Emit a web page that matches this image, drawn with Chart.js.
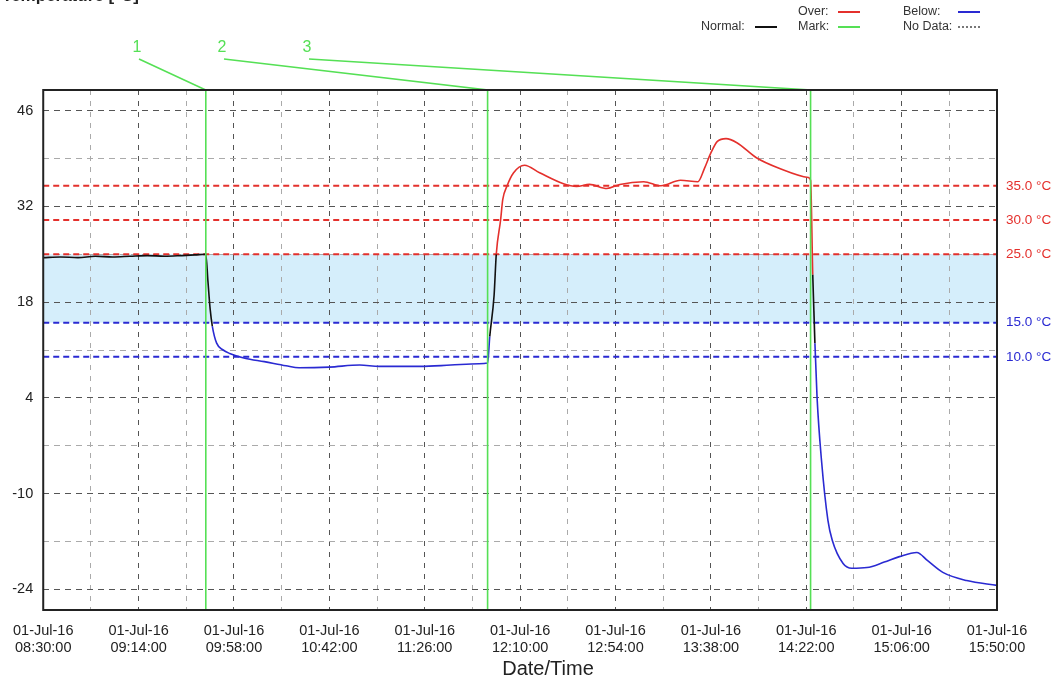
<!DOCTYPE html>
<html>
<head>
<meta charset="utf-8">
<script src="https://cdn.jsdelivr.net/npm/chart.js@4.4.0/dist/chart.umd.min.js"></script>
<style>
html, body { margin: 0; padding: 0; background: #fff; }
#wrap { width: 1062px; height: 679px; position: relative; }
</style>
</head>
<body>
<div id="wrap"><canvas id="chart"></canvas></div>
<script>
// logger readings, 01-Jul-16
const times = ['08:30','08:38','08:46','08:54','09:02','09:10','09:18','09:26','09:34','09:40','09:45',
  '09:46','09:47','09:48','09:50','09:53','09:56','10:03','10:12','10:22','10:28','10:42','10:56','11:05','11:24','11:38','11:51','11:55',
  '11:56','11:58','11:59','12:01','12:02','12:04','12:07','12:12','12:19','12:30','12:36','12:42','12:50','12:56','13:07','13:15','13:24','13:32','13:35','13:38','13:41','13:45','13:50','13:59','14:10','14:23','14:24',
  '14:25','14:26','14:27','14:29','14:32','14:34','14:39','14:43','14:50','14:58','15:05','15:13','15:18','15:25','15:36','15:50'];
const temps = [24.5,24.6,24.5,24.7,24.6,24.7,24.8,24.7,24.8,24.9,25.0,
  21,17,14.5,12,11,10.5,9.8,9.3,8.7,8.4,8.5,8.8,8.6,8.6,8.8,9.0,9.1,
  13,19,25,30,33,35,36.9,38.0,36.9,35.3,34.9,35.2,34.6,35.2,35.6,35.0,35.8,35.6,37.5,39.8,41.5,41.9,41.3,39.1,37.5,36.2,35.8,
  22,12,4,-5,-13.9,-16.8,-20.2,-20.9,-20.8,-20.0,-19.2,-18.6,-19.8,-21.5,-22.7,-23.4];

const markTimes = ['09:45', '11:55', '14:24'];
const markNames = ['1', '2', '3'];
const overLimits = [35, 30, 25];
const belowLimits = [15, 10];
const xLabelTimes = ['08:30','09:14','09:58','10:42','11:26','12:10','12:54','13:38','14:22','15:06','15:50'];
const yLabels = [-24, -10, 4, 18, 32, 46];

const START = 8 * 60 + 30;
function toMin(s) {
    const [h, m] = s.split(':').map(Number);
    return h * 60 + m - START;
}
function fmt(v) {
    const t = START + v;
    const h = Math.floor(t / 60), m = t % 60;
    return String(h).padStart(2, '0') + ':' + String(m).padStart(2, '0') + ':00';
}

const FONT = '"Liberation Sans", Arial, sans-serif';
const RED = '#e4302c';
const BLUE = '#2a2ad2';
const GREEN = '#55e055';
const points = times.map((t, i) => ({ x: toMin(t), y: temps[i] }));

// x grid every half label step, y grid every half label step
const xLabelMins = xLabelTimes.map(toMin);
const xGrid = [];
xLabelMins.forEach((m, i) => {
    xGrid.push(m);
    if (i < xLabelMins.length - 1) xGrid.push((m + xLabelMins[i + 1]) / 2);
});
const yGrid = [];
yLabels.forEach((v, i) => {
    yGrid.push(v);
    if (i < yLabels.length - 1) yGrid.push((v + yLabels[i + 1]) / 2);
});

const decor = {
    id: 'decor',
    beforeDraw(chart) {
        const { ctx, chartArea: a, scales: { y } } = chart;
        const top = y.getPixelForValue(Math.min(...overLimits));
        const bot = y.getPixelForValue(Math.max(...belowLimits));
        ctx.save();
        ctx.fillStyle = '#d5eefb';
        ctx.fillRect(a.left, top, a.right - a.left, bot - top);
        ctx.restore();
    },
    beforeDatasetsDraw(chart) {
        const { ctx, chartArea: a, scales: { y } } = chart;
        ctx.save();
        ctx.lineWidth = 2;
        ctx.setLineDash([6, 4]);
        ctx.font = '13.5px ' + FONT;
        ctx.textBaseline = 'middle';
        const drawLimit = (v, col) => {
            const py = y.getPixelForValue(v);
            ctx.strokeStyle = col;
            ctx.beginPath();
            ctx.moveTo(a.left, py);
            ctx.lineTo(a.right, py);
            ctx.stroke();
            ctx.fillStyle = col;
            ctx.fillText(v.toFixed(1) + ' °C', a.right + 9, py);
        };
        overLimits.forEach(v => drawLimit(v, RED));
        belowLimits.forEach(v => drawLimit(v, BLUE));
        ctx.restore();
    },
    afterDatasetsDraw(chart) {
        const { ctx, chartArea: a, scales: { x } } = chart;
        ctx.save();
        // marks
        ctx.strokeStyle = GREEN;
        ctx.fillStyle = GREEN;
        ctx.lineWidth = 1.6;
        ctx.font = '16px ' + FONT;
        ctx.textAlign = 'center';
        ctx.textBaseline = 'middle';
        markTimes.forEach((t, i) => {
            const px = x.getPixelForValue(toMin(t));
            const lx = 137 + 85 * i;
            ctx.beginPath();
            ctx.moveTo(px, a.bottom);
            ctx.lineTo(px, a.top);
            ctx.lineTo(lx + 2, 59);
            ctx.stroke();
            ctx.fillText(markNames[i], lx, 48);
        });
        // frame
        ctx.strokeStyle = '#222';
        ctx.lineWidth = 2;
        ctx.strokeRect(a.left, a.top, a.right - a.left, a.bottom - a.top);

        // legend
        ctx.font = '12.5px ' + FONT;
        ctx.textAlign = 'left';
        const item = (label, tx, ty, lx, col, dash) => {
            ctx.fillStyle = '#333';
            ctx.fillText(label, tx, ty);
            ctx.strokeStyle = col;
            ctx.lineWidth = 2;
            ctx.setLineDash(dash || []);
            ctx.beginPath();
            ctx.moveTo(lx, ty);
            ctx.lineTo(lx + 22, ty);
            ctx.stroke();
            ctx.setLineDash([]);
        };
        item('Normal:', 701, 27, 755, '#111');
        item('Over:', 798, 12, 838, RED);
        item('Mark:', 798, 27, 838, GREEN);
        item('Below:', 903, 12, 958, BLUE);
        item('No Data:', 903, 27, 958, '#777', [2, 2]);

        // axis title and cut-off heading
        ctx.fillStyle = '#222';
        ctx.font = '20px ' + FONT;
        ctx.textAlign = 'center';
        ctx.fillText('Date/Time', 548, 669);
        ctx.font = 'bold 17px ' + FONT;
        ctx.textAlign = 'left';
        ctx.textBaseline = 'alphabetic';
        ctx.fillText('Temperature [°C]', 2, 1);
        ctx.restore();
    }
};

new Chart(document.getElementById('chart'), {
    type: 'line',
    data: {
        datasets: [{
            data: points,
            borderWidth: 1.6,
            pointRadius: 0,
            cubicInterpolationMode: 'monotone',
            borderColor: '#111',
            segment: {
                borderColor: c => {
                    const v = (c.p0.parsed.y + c.p1.parsed.y) / 2;
                    if (v > Math.min(...overLimits)) return RED;
                    if (v < Math.max(...belowLimits)) return BLUE;
                    return '#111';
                }
            }
        }]
    },
    options: {
        responsive: true,
        maintainAspectRatio: false,
        animation: false,
        layout: { padding: { top: 90, right: 65, left: 0, bottom: 0 } },
        plugins: { legend: { display: false }, tooltip: { enabled: false } },
        scales: {
            x: {
                type: 'linear',
                min: 0,
                max: toMin('15:50'),
                afterBuildTicks: s => { s.ticks = xGrid.map(v => ({ value: v })); },
                afterFit: s => { s.height = 69; },
                grid: {
                    drawTicks: false,
                    lineWidth: 1,
                    color: c => xLabelMins.includes(c.tick && c.tick.value) ? '#555' : '#aaa'
                },
                border: { display: false, dash: [5, 6] },
                ticks: {
                    autoSkip: false,
                    maxRotation: 0,
                    padding: 13,
                    color: '#222',
                    font: { family: FONT, size: 14.5, lineHeight: 1.15 },
                    callback: v => xLabelMins.includes(v) ? ['01-Jul-16', fmt(v)] : ''
                }
            },
            y: {
                min: -27,
                max: 49,
                afterBuildTicks: s => { s.ticks = yGrid.map(v => ({ value: v })); },
                afterFit: s => { s.width = 43; },
                grid: {
                    drawTicks: false,
                    lineWidth: 1,
                    color: c => yLabels.includes(c.tick && c.tick.value) ? '#555' : '#aaa'
                },
                border: { display: false, dash: [6, 5] },
                ticks: {
                    padding: 10,
                    color: '#222',
                    font: { family: FONT, size: 14.5 },
                    callback: v => yLabels.includes(v) ? String(v) : ''
                }
            }
        }
    },
    plugins: [decor]
});
</script>
</body>
</html>
